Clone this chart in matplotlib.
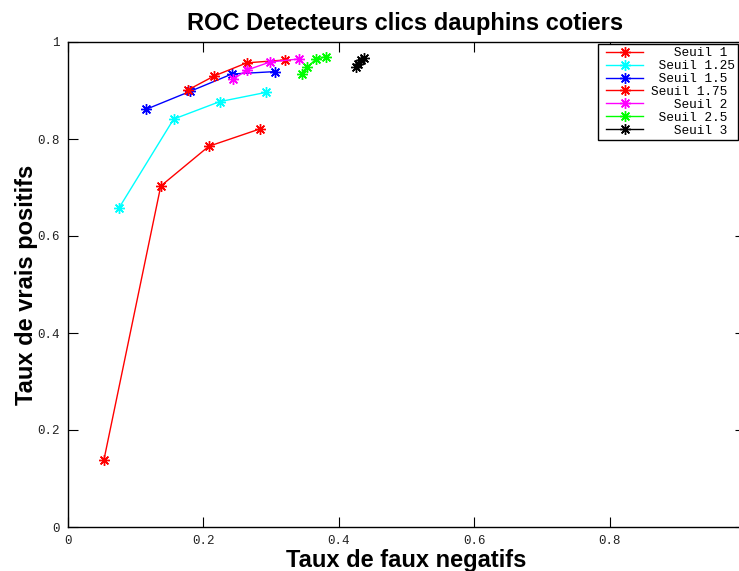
import matplotlib
matplotlib.use("Agg")
import matplotlib.pyplot as plt
from matplotlib.lines import Line2D
from matplotlib.legend_handler import HandlerLine2D

# taux de faux negatifs / taux de vrais positifs pour chaque seuil
seuils = ["Seuil 1", "Seuil 1.25", "Seuil 1.5", "Seuil 1.75", "Seuil 2", "Seuil 2.5", "Seuil 3"]
couleurs = ["#ff0000", "#00ffff", "#0000ff", "#ff0000", "#ff00ff", "#00ff00", "#000000"]

fn_1 = [0.053, 0.137, 0.208, 0.284]
vp_1 = [0.138, 0.703, 0.785, 0.821]
fn_125 = [0.075, 0.156, 0.224, 0.292]
vp_125 = [0.657, 0.841, 0.877, 0.896]
fn_15 = [0.115, 0.180, 0.242, 0.306]
vp_15 = [0.861, 0.898, 0.934, 0.939]
fn_175 = [0.177, 0.216, 0.264, 0.321]
vp_175 = [0.901, 0.930, 0.957, 0.963]
fn_2 = [0.244, 0.264, 0.299, 0.341]
vp_2 = [0.923, 0.942, 0.959, 0.965]
fn_25 = [0.345, 0.353, 0.366, 0.381]
vp_25 = [0.935, 0.948, 0.964, 0.970]
fn_3 = [0.425, 0.429, 0.433, 0.437]
vp_3 = [0.948, 0.955, 0.962, 0.968]

fn = [fn_1, fn_125, fn_15, fn_175, fn_2, fn_25, fn_3]
vp = [vp_1, vp_125, vp_15, vp_175, vp_2, vp_25, vp_3]

# texte de legende aligne comme dans octave
legende = ["   Seuil 1", " Seuil 1.25", " Seuil 1.5", "Seuil 1.75", "   Seuil 2", " Seuil 2.5", "   Seuil 3"]

fig = plt.figure(figsize=(7.39, 5.71), dpi=100)
ax = fig.add_axes([68 / 739, 44 / 571, 677 / 739, 485 / 571])

etoile = (8, 2, 0)
for x, y, c, lab in zip(fn, vp, couleurs, legende):
    ax.plot(x, y, color=c, lw=1.0, marker=etoile, ms=7.8, mew=1.0, label=lab)

ax.set_xlim(0, 1)
ax.set_ylim(0, 1)
ax.set_xticks([0, 0.2, 0.4, 0.6, 0.8, 1.0])
ax.set_xticklabels(["0", "0.2", "0.4", "0.6", "0.8", ""])
ax.set_yticks([0, 0.2, 0.4, 0.6, 0.8, 1.0])
ax.set_yticklabels(["0", "0.2", "0.4", "0.6", "0.8", "1"])
ax.tick_params(direction="in", length=7, width=0.8, top=True, right=True,
               labelsize=9, labelcolor="#222222", pad=6)
for t in ax.get_xticklabels() + ax.get_yticklabels():
    t.set_family("Liberation Mono")
for s in ax.spines.values():
    s.set_linewidth(1.0)

leg = ax.legend(loc="upper left", bbox_to_anchor=(598 / 739, 1 - 44 / 571),
                bbox_transform=fig.transFigure, prop={"family": "Liberation Mono", "size": 9.2},
                fancybox=False, framealpha=1, edgecolor="black", borderpad=0.25,
                handlelength=3.28, handletextpad=0.64, labelspacing=0.07, borderaxespad=0,
                handler_map={Line2D: HandlerLine2D(xpad=0.4)})
leg.get_frame().set_linewidth(1.0)

police = dict(family="Liberation Sans", weight="bold", size=17)
fig.text(0.548, 1 - 30 / 571, "ROC Detecteurs clics dauphins cotiers", ha="center", va="baseline", **police)
fig.text(0.55, 1 - 567 / 571, "Taux de faux negatifs", ha="center", va="baseline", **police)
fig.text(27 / 739, 1 - 285 / 571, "Taux de vrais positifs", ha="center", va="center", rotation=90, **police)

fig.savefig("out.png", dpi=100)
